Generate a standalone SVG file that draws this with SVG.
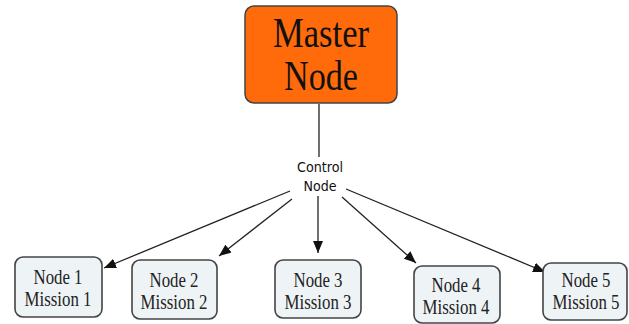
<svg xmlns="http://www.w3.org/2000/svg" width="629" height="324" viewBox="0 0 629 324">
<style>
.sub rect{fill:#EEF3F6;stroke:#444;stroke-width:1.6}
.sub text{font-family:"Liberation Serif",serif;font-size:20px;fill:#222;text-anchor:middle}
.conn line{stroke:#222;stroke-width:1.3}
</style>
<defs>
<marker id="ah" viewBox="0 0 12 10" refX="12" refY="5" markerWidth="12" markerHeight="10" markerUnits="userSpaceOnUse" orient="auto"><path d="M0,0 L12,5 L0,10 z" fill="#111"/></marker>
</defs>
<rect width="629" height="324" fill="#fff"/>
<g id="master">
<rect x="245" y="6" width="152" height="97" rx="9" fill="#FF6A0A" stroke="#444" stroke-width="1.5"/>
<text x="321" y="47" font-family="'Liberation Serif',serif" font-size="42" text-anchor="middle" fill="#111" textLength="96" lengthAdjust="spacingAndGlyphs">Master</text>
<text x="321" y="90" font-family="'Liberation Serif',serif" font-size="42" text-anchor="middle" fill="#111" textLength="74" lengthAdjust="spacingAndGlyphs">Node</text>
</g>
<g id="control">
<text x="320" y="172" font-family="'DejaVu Sans',sans-serif" font-size="14" text-anchor="middle" fill="#111" textLength="46" lengthAdjust="spacingAndGlyphs">Control</text>
<text x="320" y="191" font-family="'DejaVu Sans',sans-serif" font-size="14" text-anchor="middle" fill="#111" textLength="33" lengthAdjust="spacingAndGlyphs">Node</text>
</g>
<g class="conn">
<line x1="319" y1="104" x2="319" y2="157"/>
<line x1="290" y1="191" x2="104" y2="268" marker-end="url(#ah)"/>
<line x1="292" y1="199" x2="219" y2="256" marker-end="url(#ah)"/>
<line x1="318" y1="196" x2="318" y2="253" marker-end="url(#ah)"/>
<line x1="342" y1="197" x2="416" y2="263" marker-end="url(#ah)"/>
<line x1="346" y1="189" x2="545" y2="272" marker-end="url(#ah)"/>
</g>
<g id="node1" class="sub"><rect x="15" y="257" width="87" height="60" rx="8"/><text x="58" y="284" textLength="49" lengthAdjust="spacingAndGlyphs">Node 1</text><text x="58" y="306" textLength="67" lengthAdjust="spacingAndGlyphs">Mission 1</text></g>
<g id="node2" class="sub"><rect x="132" y="260" width="85" height="59" rx="8"/><text x="174" y="287" textLength="49" lengthAdjust="spacingAndGlyphs">Node 2</text><text x="174" y="309" textLength="67" lengthAdjust="spacingAndGlyphs">Mission 2</text></g>
<g id="node3" class="sub"><rect x="275" y="260" width="86" height="58" rx="8"/><text x="318" y="287" textLength="49" lengthAdjust="spacingAndGlyphs">Node 3</text><text x="318" y="309" textLength="67" lengthAdjust="spacingAndGlyphs">Mission 3</text></g>
<g id="node4" class="sub"><rect x="414" y="266" width="86" height="57" rx="8"/><text x="456" y="292" textLength="49" lengthAdjust="spacingAndGlyphs">Node 4</text><text x="456" y="314" textLength="67" lengthAdjust="spacingAndGlyphs">Mission 4</text></g>
<g id="node5" class="sub"><rect x="543" y="263" width="84" height="57" rx="8"/><text x="586" y="287" textLength="49" lengthAdjust="spacingAndGlyphs">Node 5</text><text x="586" y="309" textLength="67" lengthAdjust="spacingAndGlyphs">Mission 5</text></g>
</svg>
